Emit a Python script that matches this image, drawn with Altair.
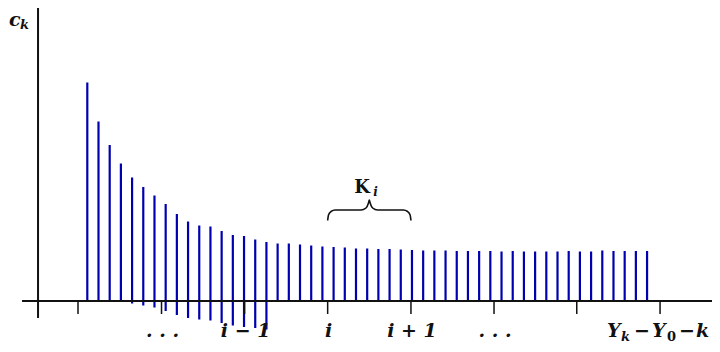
import altair as alt
import pandas as pd

# ---- data ----
k_index = list(range(51))
c_pos = [4.37, 3.59, 3.12, 2.75, 2.47, 2.28, 2.11, 1.94, 1.74, 1.59,
         1.51, 1.49, 1.40, 1.32, 1.30, 1.23, 1.18, 1.15, 1.15, 1.13,
         1.11, 1.09, 1.08, 1.07, 1.05, 1.05, 1.04, 1.04, 1.03, 1.02,
         1.01, 1.01, 1.01, 1.00, 1.00, 1.00, 1.00, 0.99, 1.00, 0.99,
         0.99, 0.99, 0.99, 1.00, 0.99, 0.99, 1.01, 1.00, 1.00, 1.00,
         1.00]
c_neg = [0, 0, 0, 0, -0.05, -0.09, -0.13, -0.20, -0.28, -0.34,
         -0.37, -0.39, -0.44, -0.49, -0.52, -0.54, -0.57] + [0] * 34
tick_pos = [-0.83, 6.63, 14.05, 21.47, 28.91, 36.33, 43.72, 51.16]
tick_labels = ["", ". . .", "i − 1", "i", "i + 1", ". . .", "", ""]
last_label_pieces = ["Y", "k", "−", "Y", "0", "−", "k"]

X_DOM = [-7.083, 55.80]
Y_DOM = [-0.86, 5.86]
yaxis_x = -4.40
xaxis_left = -5.83
label_y = -0.72

FONT = "DejaVu Serif"
INK = "#111111"
BLUE = "#0000b0"

xs = alt.Scale(domain=X_DOM, nice=False, zero=False)
ys = alt.Scale(domain=Y_DOM, nice=False, zero=False)

def X(f="x"):
    return alt.X(f"{f}:Q", scale=xs, axis=None)

def Y(f="y"):
    return alt.Y(f"{f}:Q", scale=ys, axis=None)

stems_df = pd.DataFrame({"x": k_index, "y": c_neg, "y2": c_pos})
stems = alt.Chart(stems_df).mark_rule(color=BLUE, strokeWidth=2.2).encode(
    x=X(), y=Y(), y2="y2:Q")

xaxis = alt.Chart(pd.DataFrame({"x": [xaxis_left], "x2": [X_DOM[1]], "y": [0]})).mark_rule(
    color=INK, strokeWidth=2).encode(x=X(), x2="x2:Q", y=Y())
yaxis = alt.Chart(pd.DataFrame({"x": [yaxis_x], "y": [-0.34], "y2": [Y_DOM[1]]})).mark_rule(
    color=INK, strokeWidth=2).encode(x=X(), y=Y(), y2="y2:Q")
ticks = alt.Chart(pd.DataFrame({"x": tick_pos, "y": [0] * len(tick_pos),
                                "y2": [-0.26] * len(tick_pos)})).mark_rule(
    color=INK, strokeWidth=1.5).encode(x=X(), y=Y(), y2="y2:Q")

lab_df = pd.DataFrame({"x": tick_pos, "y": [label_y] * len(tick_pos), "t": tick_labels})
labels = alt.Chart(lab_df).mark_text(font=FONT, fontSize=19, fontStyle="italic",
                                     fontWeight="bold", color=INK, align="center",
                                     baseline="alphabetic", dx=1).encode(
    x=X(), y=Y(), text="t:N")

layers = [stems, xaxis, yaxis, ticks, labels]

# last tick label built from pieces (main text, subscripts)
piece_style = [(-53, 0, 19, "italic"), (-39, 4, 13, "italic"), (-26, 0, 19, "normal"),
               (-8, 0, 19, "italic"), (7, 4, 13, "normal"), (19, 0, 19, "normal"),
               (36, 0, 19, "italic")]
last_df = pd.DataFrame({"x": [tick_pos[-1]], "y": [label_y]})
for txt, (dx, dy, fs, st) in zip(last_label_pieces, piece_style):
    layers.append(alt.Chart(last_df).mark_text(
        text=txt, font=FONT, fontSize=fs, fontStyle=st, fontWeight="bold", color=INK,
        align="left", baseline="alphabetic", dx=dx, dy=dy).encode(x=X(), y=Y()))

# brace over K_i, spanning ticks i .. i+1
brace_u = [0.0, 0.01, 0.04, 0.09, 0.40, 0.46, 0.49, 0.5,
           0.51, 0.54, 0.60, 0.91, 0.96, 0.99, 1.0]
brace_v = [1.61, 1.72, 1.79, 1.82, 1.82, 1.86, 1.96, 2.02,
           1.96, 1.86, 1.82, 1.82, 1.79, 1.72, 1.61]
b0, b1 = tick_pos[3], tick_pos[4]
brace_df = pd.DataFrame({"x": [b0 + u * (b1 - b0) for u in brace_u], "y": brace_v,
                         "o": list(range(len(brace_u)))})
brace = alt.Chart(brace_df).mark_line(color=INK, strokeWidth=1.6, interpolate="monotone").encode(
    x=X(), y=Y(), order="o:Q")
layers.append(brace)

kmid = (b0 + b1) / 2
kdf = pd.DataFrame({"x": [kmid], "y": [2.16]})
layers.append(alt.Chart(kdf).mark_text(text="K", font=FONT, fontSize=18, fontWeight="bold",
                                       color=INK, align="left", baseline="alphabetic", dx=-15).encode(
    x=X(), y=Y()))
layers.append(alt.Chart(kdf).mark_text(text="i", font=FONT, fontSize=12, fontStyle="italic",
                                       fontWeight="bold", color=INK, align="left",
                                       baseline="alphabetic", dx=4, dy=3).encode(x=X(), y=Y()))

# y label c_k
cdf = pd.DataFrame({"x": [yaxis_x], "y": [5.50]})
layers.append(alt.Chart(cdf).mark_text(text="c", font=FONT, fontSize=19, fontStyle="italic",
                                       fontWeight="bold", color=INK, align="left",
                                       baseline="alphabetic", dx=-29).encode(x=X(), y=Y()))
layers.append(alt.Chart(cdf).mark_text(text="k", font=FONT, fontSize=13, fontStyle="italic",
                                       fontWeight="bold", color=INK, align="left",
                                       baseline="alphabetic", dx=-18, dy=3).encode(x=X(), y=Y()))

chart = alt.layer(*layers).properties(
    width=704, height=336, padding=0,
    autosize=alt.AutoSizeParams(type="none"),
).configure_view(stroke=None)
chart.save("out.html", embed_options={"renderer": "svg", "actions": False})
